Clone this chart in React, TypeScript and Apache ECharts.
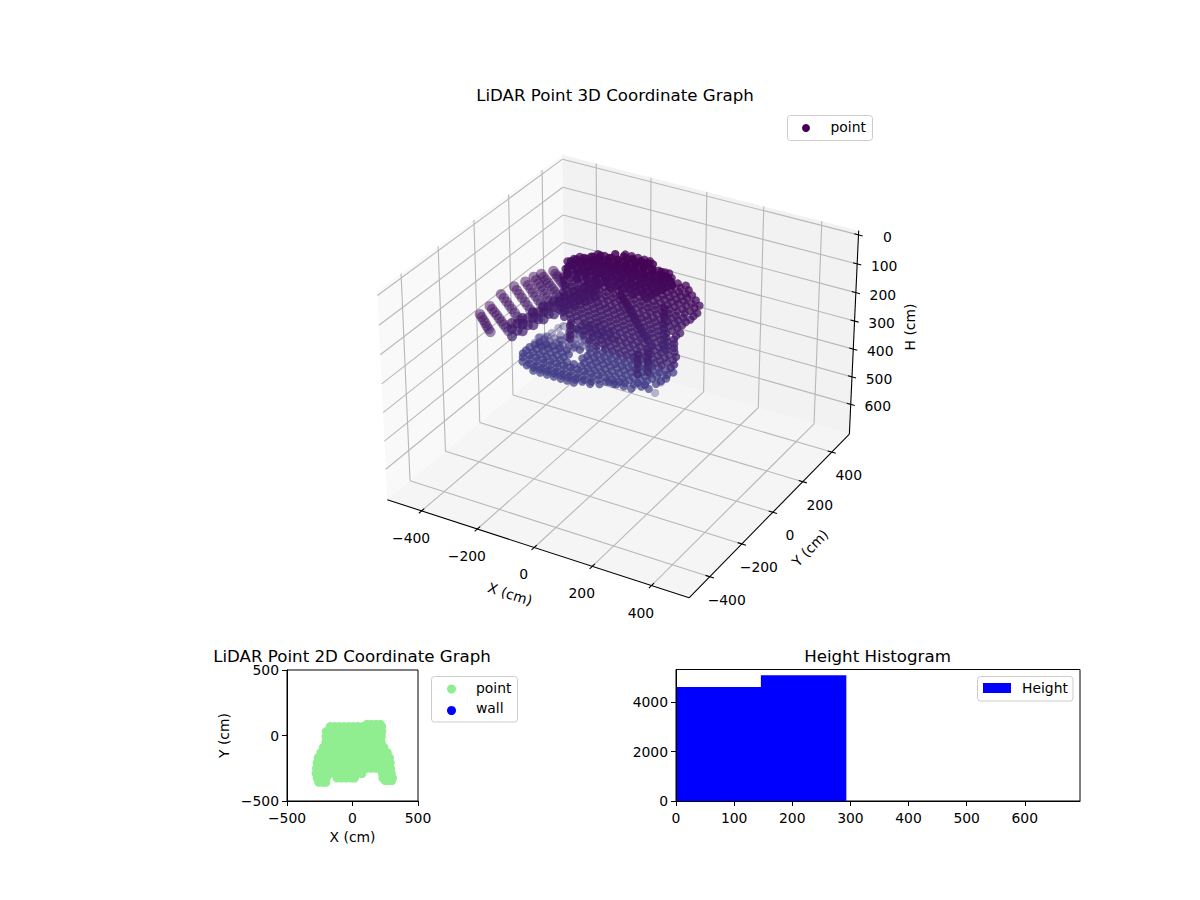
import { useEffect, useRef } from "react";
import * as echarts from "echarts";

const FONT = "DejaVu Sans";

// 3D axes
const xLim3d = [-525, 525];
const yLim3d = [-525, 525];
const hLim3d = [-14.5, 709.5];
const xTicks3d = [-400, -200, 0, 200, 400];
const yTicks3d = [-400, -200, 0, 200, 400];
const hTicks3d = [0, 100, 200, 300, 400, 500, 600];

// point cloud rows: [H, Y, X values]
const upperRows: [number, number, number[]][] = [
  [5, 68, [-30, -8, 14, 36, 55]],
  [10, 57, [-20, 2, 24, 46]],
  [15, 45, [-112, -88, -65, -42, -18, 5, 28, 52, 75, 98, 120, 134]],
  [20, 32, [-120, -100, -76, -53, -30, -7, 17, 40, 63, 87, 110, 128, 150]],
  [25, 19, [-160, -136, -112, -88, -64, -40, -16, 8, 32, 56, 80, 104, 128, 152, 178, 205]],
  [32, 10, [-175, -148, -124, -100, -76, -52, -28, -4, 20, 44, 68, 92, 116, 140, 165, 192, 220]],
  [40, 0, [-192, -168, -144, -120, -96, -72, -48, -24, 0, 24, 48, 72, 96, 120, 144, 168, 192, 215, 237]],
  [47, -10, [-180, -156, -132, -108, -84, -60, -36, -12, 12, 36, 60, 84, 108, 132, 156, 180, 204, 226, 255]],
  [55, -20, [-187, -164, -140, -116, -92, -68, -44, -20, 4, 28, 52, 76, 100, 124, 148, 172, 196, 220, 246, 273]],
  [62, -30, [-175, -152, -128, -104, -80, -56, -32, -8, 16, 40, 64, 88, 112, 136, 160, 184, 208, 234, 262]],
  [70, -40, [-183, -159, -135, -111, -87, -63, -39, -15, 9, 33, 57, 81, 105, 129, 153, 177, 201, 227, 252, 277]],
  [77, -50, [-175, -147, -123, -99, -75, -51, -27, -3, 21, 45, 69, 93, 117, 141, 165, 189, 214, 240, 270]],
  [85, -60, [-167, -143, -119, -95, -71, -47, -23, 1, 25, 49, 73, 97, 121, 145, 169, 193, 217, 241, 265]],
  [92, -70, [-155, -131, -107, -83, -59, -35, -11, 13, 37, 61, 85, 109, 133, 157, 181, 205, 229, 255]],
  [100, -80, [-160, -136, -112, -88, -64, -40, -16, 8, 32, 56, 80, 104, 128, 152, 176, 200, 224, 248]],
  [107, -90, [-150, -124, -100, -76, -52, -28, -4, 20, 44, 68, 92, 116, 140, 164, 188, 212, 238]],
  [115, -100, [-162, -138, -114, -90, -66, -42, -18, 6, 30, 54, 78, 102, 126, 150, 174, 198, 226, 253]],
  [122, -110, [-150, -126, -102, -78, -54, -30, -6, 18, 42, 66, 90, 114, 138, 162, 186, 212, 245]],
  [130, -120, [-144, -120, -96, -72, -48, -24, 0, 24, 48, 72, 96, 120, 144, 168, 192, 218, 243]],
  [137, -130, [-132, -108, -84, -60, -36, -12, 12, 36, 60, 84, 108, 132, 156, 180, 204, 228, 250]],
  [145, -140, [-121, -97, -73, -49, -25, -1, 23, 47, 71, 95, 119, 143, 167, 191, 215, 235, 255]],
  [152, -150, [-90, -53, -29, -5, 19, 43, 67, 91, 115, 139, 163, 187, 211, 236, 262]],
  [160, -160, [-65, -41, -17, 7, 31, 55, 79, 103, 127, 151, 175, 199, 223, 248, 273]],
  [167, -170, [-36, -5, 26, 50, 74, 98, 122, 146, 170, 194, 218, 242, 268]],
  [175, -180, [-10, 14, 38, 62, 86, 110, 134, 158, 182, 206, 230, 254, 278]],
  [182, -190, [20, 50, 74, 98, 122, 146, 170, 194, 218, 242, 272]],
];

const capRows: [number, number, number[]][] = [
  [8, 60, [-60, -30, 0, 30, 55, 70]],
  [14, 40, [-100, -70, -40, -10, 20, 50, 80, 110]],
  [19, 28, [-125, -95, -65, -35, -5, 25, 55, 85, 115, 140]],
  [24, 18, [-145, -115, -85, -55, -25, 5, 35, 65, 95, 125, 155]],
  [30, 8, [-165, -135, -105, -75, -45, -15, 15, 45, 75, 105, 135, 165]],
  [36, 0, [-180, -150, -120, -90, -60, -30, 0, 30, 60, 90, 120, 150]],
  [43, -10, [-170, -135, -105, -70, -35, 0, 35, 70, 105, 140]],
  [50, -18, [-180, -150, -120, -85, -50, -15, 20, 55, 90, 125]],
  [58, -28, [-175, -140, -110, -75, -40, 0, 40, 80, 115]],
  [65, -38, [-170, -135, -100, -60, -20, 20, 60, 100]],
];

const lowerRows: [number, number, number[]][] = [
  [265, -85, [-66, -42, -18, 6, 30, 54, 78, 102, 126, 150, 174, 198, 223]],
  [268, -102, [-90, -54, -30, -6, 18, 42, 66, 90, 114, 138, 162, 186, 212]],
  [270, -120, [-221, -197, -173, -149, -125, -53, -29, -5, 19, 43, 67, 91, 115, 139, 163, 187, 218]],
  [272, -137, [-228, -204, -180, -156, -132, -108, -60, -36, -12, 12, 36, 60, 84, 108, 132, 156, 180, 210]],
  [275, -154, [-236, -212, -188, -164, -140, -116, -44, -20, 4, 28, 52, 76, 100, 124, 148, 172, 203]],
  [278, -171, [-238, -214, -190, -166, -142, -118, -94, -70, -46, -22, 2, 26, 50, 74, 98, 122, 150, 175]],
  [280, -189, [-238, -214, -190, -166, -142, -118, -94, -70, -46, -22, 2, 26, 50, 74, 98, 117]],
  [282, -206, [-228, -204, -180, -156, -132, -108, -84, -60, -36, -12, 12, 36, 62, 88]],
  [285, -224, [-218, -194, -170, -146, -122, -98, -74, -50, -26, -2, 22, 50]],
  [286, -236, [-195, -170, -146, -122, -98, -74, -50, -26, -2, 25]],
  [288, -250, [-164, -140, -116, -92, -68, -46, -23]],
  [285, -200, [70, 95, 120, 145]],
  [285, -175, [140, 165, 190]],
];

const laceRows: [number, number, number[]][] = [
  [267, -103, [-235, -215, -195, -172, -150, -128, -110]],
  [265, -85, [-215, -190, -165, -140, -115, -92]],
  [262, -65, [-180, -155, -130, -105, -80]],
  [258, -40, [-165, -140, -115, -90, -65]],
  [255, -15, [-150, -120, -95, -70, -45, -20]],
  [252, 15, [-125, -100, -75, -50]],
];

// [X, Y, H]
const ribPoints: [number, number, number][] = [
  [-264, -380, 60], [-258, -380, 68], [-252, -380, 77], [-246, -380, 85], [-241, -380, 94], [-235, -380, 102], [-229, -380, 110],
  [-265, -324, 60], [-257, -324, 68], [-249, -324, 76], [-241, -324, 84], [-233, -324, 93], [-225, -324, 101], [-218, -324, 109], [-210, -324, 117], [-202, -324, 126],
  [-275, -246, 60], [-265, -246, 70], [-256, -246, 80], [-247, -246, 90], [-238, -246, 100], [-228, -246, 110], [-219, -246, 121], [-210, -246, 131], [-201, -246, 141],
  [-267, -185, 60], [-258, -185, 70], [-249, -185, 81], [-240, -185, 91], [-230, -185, 102], [-221, -185, 112], [-212, -185, 123], [-202, -185, 133], [-193, -185, 144],
  [-254, -142, 60], [-245, -142, 70], [-236, -142, 80], [-228, -142, 91], [-219, -142, 101], [-210, -142, 111], [-201, -142, 121], [-193, -142, 132], [-184, -142, 142],
  [-248, -104, 60], [-240, -104, 69], [-232, -104, 79], [-224, -104, 88], [-216, -104, 98], [-209, -104, 108], [-201, -104, 118], [-193, -104, 127], [-185, -104, 137],
  [-238, -77, 60], [-230, -77, 68], [-222, -77, 76], [-214, -77, 84], [-206, -77, 92], [-198, -77, 100], [-191, -77, 107], [-183, -77, 115], [-175, -77, 123],
  [-216, -43, 60], [-209, -43, 68], [-202, -43, 75], [-195, -43, 83], [-188, -43, 90], [-181, -43, 98], [-174, -43, 105],
];

const bandPoints: [number, number, number][] = [
  [-203, -303, 110], [-203, -303, 130], [-203, -303, 155],
  [-197, -282, 120], [-197, -282, 145],
  [-192, -261, 110], [-192, -261, 130], [-192, -261, 155],
  [-188, -237, 120], [-188, -237, 145],
  [-184, -214, 110], [-184, -214, 130], [-184, -214, 155],
  [-180, -191, 120], [-180, -191, 145],
  [-176, -168, 110], [-176, -168, 130], [-176, -168, 155],
  [-170, -147, 120], [-170, -147, 145],
  [-165, -126, 110], [-165, -126, 130], [-165, -126, 155],
  [-159, -105, 120], [-159, -105, 145],
  [-153, -85, 110], [-153, -85, 130], [-153, -85, 155],
  [-147, -64, 120], [-147, -64, 145],
  [-142, -43, 110], [-142, -43, 130], [-142, -43, 155],
  [-135, -25, 120], [-135, -25, 145],
  [-128, -7, 110], [-128, -7, 130], [-128, -7, 155],
  [-121, 11, 120], [-121, 11, 145],
  [-114, 29, 110], [-114, 29, 130], [-114, 29, 155],
];

const columnPoints: [number, number, number][] = [
  [187, -78, 60], [187, -78, 78], [187, -78, 96], [187, -78, 114], [187, -78, 132], [187, -78, 150], [187, -78, 168], [187, -78, 186], [187, -78, 200],
  [194, -249, 130], [194, -249, 146], [194, -249, 162], [194, -249, 178], [194, -249, 196],
  [214, -223, 130], [214, -223, 146], [214, -223, 162], [214, -223, 178], [214, -223, 196],
  [-36, -246, 100], [-36, -246, 115], [-36, -246, 130], [-36, -246, 145],
  [59, -100, 50], [72, -101, 66], [85, -103, 82], [97, -104, 98], [110, -106, 114], [123, -107, 130], [135, -109, 146], [148, -110, 162], [161, -112, 180],
  [45, -90, 50], [58, -92, 66], [71, -94, 82], [84, -95, 98], [97, -97, 114], [110, -98, 130], [122, -100, 146], [135, -102, 162],
];

const lacePoints: [number, number, number][] = [
  [-177, -13, 250], [-138, 10, 250], [-141, -27, 250], [-98, -17, 250], [-138, -82, 250], [-92, -69, 250],
  [-68, -20, 250], [-143, -134, 250], [-97, -122, 250], [-64, -88, 250], [-195, -164, 250], [-24, -65, 250],
];

const sparsePoints: [number, number, number][] = [
  [-201, -14, 260], [-208, -32, 260], [-209, -68, 260], [-215, -100, 260], [-228, -107, 260],
  [-223, -146, 260], [-157, -66, 260], [-151, -28, 260], [-178, -134, 260], [-166, -92, 260],
  [-191, -142, 260], [-133, 32, 260], [-116, 63, 260], [-129, -36, 260],
  [214, -179, 290], [199, -117, 290], [186, -76, 290],
];

// 2D footprint rows: [Y, X values]
const footprintRows: [number, number[]][] = [
  [85, [110, 145, 180, 212]],
  [68, [-170, -135, -100, -65, -30, 5, 40, 75, 110, 145, 180, 222]],
  [30, [-200, -165, -130, -95, -60, -25, 10, 45, 80, 115, 150, 185, 224]],
  [-10, [-202, -167, -132, -97, -62, -27, 8, 43, 78, 113, 148, 183, 220]],
  [-50, [-203, -168, -133, -98, -63, -28, 7, 42, 77, 112, 147, 182, 219]],
  [-90, [-222, -187, -152, -117, -82, -47, -12, 23, 58, 93, 128, 163, 198, 239]],
  [-130, [-241, -206, -171, -136, -101, -66, -31, 4, 39, 74, 109, 144, 179, 214, 240, 265]],
  [-170, [-262, -227, -192, -157, -122, -87, -52, -17, 18, 53, 88, 123, 158, 193, 228, 255, 282]],
  [-210, [-270, -235, -200, -165, -130, -95, -60, -25, 10, 45, 80, 115, 150, 185, 220, 255, 288]],
  [-250, [-275, -240, -205, -170, -135, -100, -65, -30, 5, 40, 75, 110, 145, 180, 215, 250, 290]],
  [-290, [-278, -243, -208, -173, -138, -103, -68, -33, 2, 37, 72, 228, 262, 296]],
  [-325, [-270, -235, -200, -118, -83, -48, -13, 15, 232, 265, 305]],
  [-344, [250, 275, 300]],
  [-357, [-258, -225, -203]],
];

// histogram
const binEdges = [0, 146, 292];
const binCounts = [4620, 5104];
const wallValues: number[] = [];
const histXTicks = [0, 100, 200, 300, 400, 500, 600];
const histYTicks = [0, 2000, 4000];
const scatterTicks = [-500, 0, 500];

function project(X: number, Y: number, H: number) {
  const dx = ((X - xLim3d[0]) / (xLim3d[1] - xLim3d[0])) * 1.19 - 0.595;
  const dy = ((Y - yLim3d[0]) / (yLim3d[1] - yLim3d[0])) * 1.19 - 0.595;
  const dz = 0.41 - ((H - hLim3d[0]) / (hLim3d[1] - hLim3d[0])) * 0.82;
  const xc = 0.866025 * dx + 0.5 * dy;
  const yc = -0.25 * dx + 0.433013 * dy + 0.866025 * dz;
  const zc = 0.433013 * dx - 0.75 * dy + 0.5 * dz;
  const depth = 10 - zc;
  return [622.6 + (2900 * xc) / depth, 365.4 - (2900 * yc) / depth];
}

const fromRows = (rows: [number, number, number[]][]) =>
  rows.flatMap(([h, y, xs]) => xs.map((x) => [x, y, h] as [number, number, number]));

const toScreen = (pts: [number, number, number][]) =>
  pts.map(([x, y, h]) => [...project(x, y, h), h]);

const heightColor = (h: number) => {
  const t = Math.min(h / 290, 1);
  const r = Math.round(0x44 + (0x3d - 0x44) * t);
  const g = Math.round(0x01 + (0x3a - 0x01) * t);
  const b = Math.round(0x54 + (0x85 - 0x54) * t);
  return `rgb(${r},${g},${b})`;
};

const minus = (v: number) => String(v).replace("-", "\u2212");

const cloudSeries = (pts: [number, number, number][], opacity: number, z: number, size = 8.3) => ({
  type: "scatter",
  name: "point",
  xAxisIndex: 0,
  yAxisIndex: 0,
  symbolSize: size,
  silent: true,
  z,
  data: toScreen(pts),
  itemStyle: {
    opacity,
    color: (p: any) => heightColor(p.value[2]),
  },
});

const render3dFrame = (_: any, api: any) => {
  const [x0, x1] = xLim3d;
  const [y0, y1] = yLim3d;
  const [h0, h1] = hLim3d;
  const pt = (x: number, y: number, h: number) => {
    const s = project(x, y, h);
    return api.coord([s[0], s[1]]);
  };
  const poly = (points: number[][], fill: string) => ({
    type: "polygon",
    shape: { points },
    style: { fill },
  });
  const seg = (a: number[], b: number[], stroke: string, lineWidth: number) => ({
    type: "line",
    shape: { x1: a[0], y1: a[1], x2: b[0], y2: b[1] },
    style: { stroke, lineWidth },
  });
  const label = (text: string, p: number[], dx: number, dy: number, rotation = 0) => ({
    type: "text",
    x: p[0] + dx,
    y: p[1] + dy,
    rotation,
    style: {
      text,
      x: 0,
      y: 0,
      align: "center",
      verticalAlign: "middle",
      fill: "#000",
      font: `13.9px "${FONT}"`,
    },
  });
  const children: any[] = [
    poly([pt(x0, y0, h1), pt(x0, y1, h1), pt(x0, y1, h0), pt(x0, y0, h0)], "#f9f9f9"),
    poly([pt(x0, y1, h1), pt(x1, y1, h1), pt(x1, y1, h0), pt(x0, y1, h0)], "#f2f2f2"),
    poly([pt(x0, y0, h1), pt(x1, y0, h1), pt(x1, y1, h1), pt(x0, y1, h1)], "#f5f5f5"),
  ];
  const grid = "#b8b8b8";
  xTicks3d.forEach((x) => {
    children.push(seg(pt(x, y0, h1), pt(x, y1, h1), grid, 1.1));
    children.push(seg(pt(x, y1, h1), pt(x, y1, h0), grid, 1.1));
  });
  yTicks3d.forEach((y) => {
    children.push(seg(pt(x1, y, h1), pt(x0, y, h1), grid, 1.1));
    children.push(seg(pt(x0, y, h1), pt(x0, y, h0), grid, 1.1));
  });
  hTicks3d.forEach((h) => {
    children.push(seg(pt(x1, y1, h), pt(x0, y1, h), grid, 1.1));
    children.push(seg(pt(x0, y1, h), pt(x0, y0, h), grid, 1.1));
  });
  children.push(seg(pt(x0, y0, h1), pt(x1, y0, h1), "#000", 1.1));
  children.push(seg(pt(x1, y0, h1), pt(x1, y1, h1), "#000", 1.1));
  children.push(seg(pt(x1, y1, h1), pt(x1, y1, h0), "#000", 1.1));
  xTicks3d.forEach((x) => {
    children.push(seg(pt(x, y0 - 15, h1), pt(x, y0 + 15, h1), "#000", 1.1));
    children.push(label(minus(x), pt(x, y0, h1), -10.5, 27));
  });
  yTicks3d.forEach((y) => {
    children.push(seg(pt(x1 - 14, y, h1), pt(x1 + 14, y, h1), "#000", 1.1));
    children.push(label(minus(y), pt(x1, y, h1), 17, 23));
  });
  hTicks3d.forEach((h) => {
    children.push(seg(pt(x1 - 14, y1, h), pt(x1 + 14, y1, h), "#000", 1.1));
    children.push(label(String(h), pt(x1, y1, h), h === 0 ? 29 : 27, 2));
  });
  children.push(label("X (cm)", [510, 594], 0, 0, -0.31));
  children.push(label("Y (cm)", [810, 548], 0, 0, 0.8));
  children.push(label("H (cm)", [910, 327], 0, 0, Math.PI / 2));
  return { type: "group", children };
};

const renderHistBar = (params: any, api: any) => {
  const i = params.dataIndex;
  const a = api.coord([binEdges[i], binCounts[i]]);
  const b = api.coord([binEdges[i + 1], 0]);
  return {
    type: "rect",
    shape: { x: a[0], y: a[1], width: b[0] - a[0] + 0.6, height: b[1] - a[1] },
    style: { fill: "#0000ff" },
  };
};

const legendBox = (x: number, y: number, width: number, height: number) => ({
  type: "rect",
  shape: { x, y, width, height, r: 3 },
  style: { fill: "rgba(255,255,255,0.8)", stroke: "#cccccc", lineWidth: 1 },
});
const legendDot = (cx: number, cy: number, r: number, fill: string) => ({
  type: "circle",
  shape: { cx, cy, r },
  style: { fill },
});
const legendText = (text: string, x: number, y: number) => ({
  type: "text",
  x,
  y,
  style: { text, x: 0, y: 0, align: "left", verticalAlign: "middle", fill: "#000", font: `13.9px "${FONT}"` },
});

const tickStyle = { length: 5, lineStyle: { color: "#000", width: 1 } };
const labelStyle = { color: "#000", fontFamily: FONT, fontSize: 13.9 };
const lineStyle = { onZero: false, lineStyle: { color: "#000", width: 1 } };
const titleStyle = { color: "#000", fontFamily: FONT, fontSize: 16.67, fontWeight: "normal" as const };

export default function App() {
  const chartRef = useRef<HTMLDivElement>(null);

  useEffect(() => {
    if (!chartRef.current) return;
    const chart = echarts.init(chartRef.current, null, { renderer: "svg" });
    chart.setOption({
      animation: false,
      backgroundColor: "#fff",
      title: [
        { text: "LiDAR Point 3D Coordinate Graph", left: 615, top: 87, textAlign: "center", textStyle: titleStyle, padding: 0 },
        { text: "LiDAR Point 2D Coordinate Graph", left: 352, top: 648, textAlign: "center", textStyle: titleStyle, padding: 0 },
        { text: "Height Histogram", left: 877.5, top: 648, textAlign: "center", textStyle: titleStyle, padding: 0 },
      ],
      grid: [
        { left: 0, top: 0, width: 1200, height: 900 },
        { left: 287, top: 670, width: 131, height: 131, show: true, borderColor: "#000", borderWidth: 1, backgroundColor: "transparent" },
        { left: 676, top: 669.5, width: 404, height: 131.5, show: true, borderColor: "#000", borderWidth: 1, backgroundColor: "transparent" },
      ],
      xAxis: [
        { type: "value", gridIndex: 0, min: 0, max: 1200, show: false },
        {
          type: "value",
          gridIndex: 1,
          z: 10,
          min: -500,
          max: 500,
          interval: 500,
          name: "X (cm)",
          nameLocation: "middle",
          nameGap: 29,
          nameTextStyle: { color: "#000", fontFamily: FONT, fontSize: 13.9 },
          axisLine: lineStyle,
          axisTick: tickStyle,
          axisLabel: { ...labelStyle, margin: 9.5, formatter: minus, customValues: scatterTicks },
          splitLine: { show: false },
        },
        {
          type: "value",
          gridIndex: 2,
          z: 10,
          min: 0,
          max: 695,
          interval: 100,
          axisLine: lineStyle,
          axisTick: { ...tickStyle, customValues: histXTicks },
          axisLabel: { ...labelStyle, margin: 9.5, formatter: (v: number) => String(v), customValues: histXTicks },
          splitLine: { show: false },
        },
      ],
      yAxis: [
        { type: "value", gridIndex: 0, min: 0, max: 900, inverse: true, show: false },
        {
          type: "value",
          gridIndex: 1,
          z: 10,
          min: -500,
          max: 500,
          interval: 500,
          name: "Y (cm)",
          nameLocation: "middle",
          nameGap: 56,
          nameTextStyle: { color: "#000", fontFamily: FONT, fontSize: 13.9 },
          axisLine: lineStyle,
          axisTick: tickStyle,
          axisLabel: { ...labelStyle, margin: 8, formatter: minus, customValues: scatterTicks },
          splitLine: { show: false },
        },
        {
          type: "value",
          gridIndex: 2,
          z: 10,
          min: 0,
          max: 5333,
          interval: 2000,
          axisLine: lineStyle,
          axisTick: { ...tickStyle, customValues: histYTicks },
          axisLabel: { ...labelStyle, margin: 8, formatter: (v: number) => String(v), customValues: histYTicks },
          splitLine: { show: false },
        },
      ],
      series: [
        {
          type: "custom",
          xAxisIndex: 0,
          yAxisIndex: 0,
          silent: true,
          z: 1,
          clip: false,
          data: [[0, 0]],
          renderItem: render3dFrame,
        },
        cloudSeries(sparsePoints, 0.35, 2),
        cloudSeries(lacePoints, 0.45, 2),
        cloudSeries(fromRows(laceRows), 0.45, 2),
        cloudSeries(fromRows(lowerRows), 0.7, 3),
        cloudSeries(ribPoints, 0.5, 4, 10.5),
        cloudSeries(bandPoints, 0.7, 4, 10),
        cloudSeries(fromRows(upperRows), 0.75, 5),
        cloudSeries(columnPoints, 0.7, 6),
        cloudSeries(fromRows(capRows), 0.85, 7),
        {
          type: "scatter",
          name: "point",
          xAxisIndex: 1,
          yAxisIndex: 1,
          symbolSize: 9,
          silent: true,
          itemStyle: { color: "#90ee90", opacity: 1 },
          data: footprintRows.flatMap(([y, xs]) => xs.map((x) => [x, y])),
        },
        {
          type: "scatter",
          name: "wall",
          xAxisIndex: 1,
          yAxisIndex: 1,
          symbolSize: 9,
          itemStyle: { color: "#0000ff" },
          data: wallValues,
        },
        {
          type: "custom",
          name: "Height",
          xAxisIndex: 2,
          yAxisIndex: 2,
          silent: true,
          data: binCounts.map((c, i) => [binEdges[i], c]),
          renderItem: renderHistBar,
        },
      ],
      graphic: [
        legendBox(787.5, 115.5, 85, 25),
        legendDot(806, 128, 4, "#440154"),
        legendText("point", 830.5, 127),
        legendBox(431.5, 676.5, 86, 45.5),
        legendDot(451.5, 689, 4.5, "#90ee90"),
        legendDot(451.5, 710.5, 4.5, "#0000ff"),
        legendText("point", 476, 688),
        legendText("wall", 476, 708),
        legendBox(977.5, 676.5, 95.5, 24.5),
        { type: "rect", shape: { x: 983, y: 683, width: 28, height: 10 }, style: { fill: "#0000ff" } },
        legendText("Height", 1022, 688),
      ],
    });
    return () => {
      chart.dispose();
    };
  }, []);

  return <div ref={chartRef} style={{ position: "absolute", left: 0, top: 0, width: 1200, height: 900 }} />;
}
